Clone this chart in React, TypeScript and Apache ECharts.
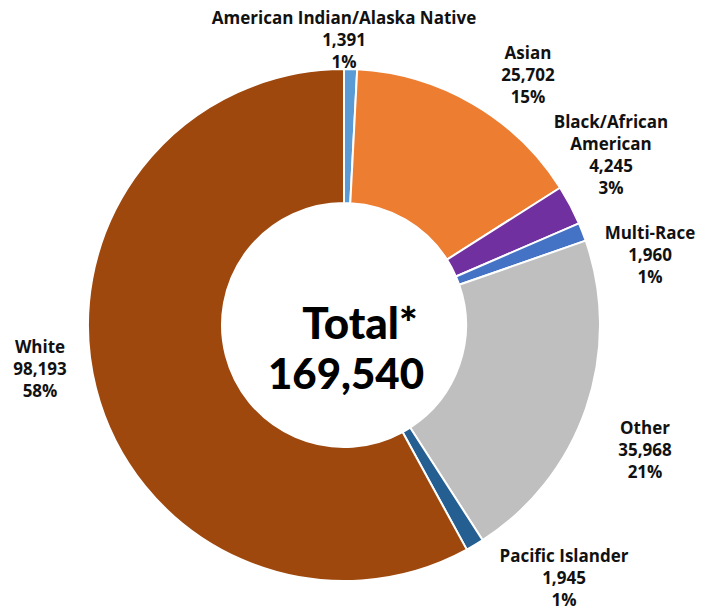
import React, { useEffect, useRef } from "react";
import * as echarts from "echarts";

const categories = [
  "American Indian/Alaska Native",
  "Asian",
  "Black/African American",
  "Multi-Race",
  "Other",
  "Pacific Islander",
  "White",
];
const labelNames = [
  "American Indian/Alaska Native",
  "Asian",
  "Black/African\nAmerican",
  "Multi-Race",
  "Other",
  "Pacific Islander",
  "White",
];
const values = [1391, 25702, 4245, 1960, 35968, 1945, 98193];
const colors = ["#5B9BD5", "#ED7D31", "#7030A0", "#4472C4", "#BFBFBF", "#255E91", "#9E480E"];
const totalLabel = "Total*";
const totalValue = "169,540";

// label block centres (pixels)
const labelPos: [number, number][] = [
  [344, 39],
  [528, 74],
  [611, 154],
  [650, 254],
  [645, 449],
  [564, 577],
  [40, 368],
];

const fmt = (n: number) => n.toLocaleString("en-US");

export default function App() {
  const ref = useRef<HTMLDivElement>(null);
  useEffect(() => {
    if (!ref.current) return;
    const chart = echarts.init(ref.current, null, { renderer: "svg" });
    const font = "'Open Sans', Lato, sans-serif";
    const centerFont = "Lato, 'Open Sans', sans-serif";
    chart.setOption({
      animation: false,
      backgroundColor: "#ffffff",
      graphic: [
        {
          type: "text",
          x: 360,
          y: 322,
          style: {
            text: totalLabel,
            fontSize: 44,
            fontWeight: 900,
            fontFamily: centerFont,
            fill: "#000",
            align: "center",
            verticalAlign: "middle",
          },
        },
        {
          type: "text",
          x: 346,
          y: 373,
          style: {
            text: totalValue,
            fontSize: 42,
            fontWeight: 900,
            fontFamily: centerFont,
            fill: "#000",
            align: "center",
            verticalAlign: "middle",
          },
        },
      ],
      series: [
        {
          type: "pie",
          center: [344, 325],
          radius: [122, 256],
          startAngle: 90,
          clockwise: true,
          avoidLabelOverlap: false,
          percentPrecision: 0,
          itemStyle: { borderColor: "#ffffff", borderWidth: 2 },
          label: {
            show: true,
            position: "outside",
            fontFamily: font,
            fontSize: 17,
            fontWeight: "bold",
            lineHeight: 22,
            color: "#111111",
            align: "center",
            formatter: (p: any) =>
              `${labelNames[p.dataIndex]}\n${fmt(p.value)}\n${p.percent}%`,
          },
          labelLine: { show: false },
          labelLayout: (p: any) => {
            const pos = labelPos[p.dataIndex];
            return { x: pos[0], y: pos[1], align: "center", verticalAlign: "middle" };
          },
          data: categories.map((c, i) => ({
            name: c,
            value: values[i],
            itemStyle: { color: colors[i] },
          })),
        },
      ],
    });
    return () => chart.dispose();
  }, []);
  return (
    <div
      ref={ref}
      style={{ position: "fixed", left: 0, top: 0, width: 718, height: 610 }}
    />
  );
}
